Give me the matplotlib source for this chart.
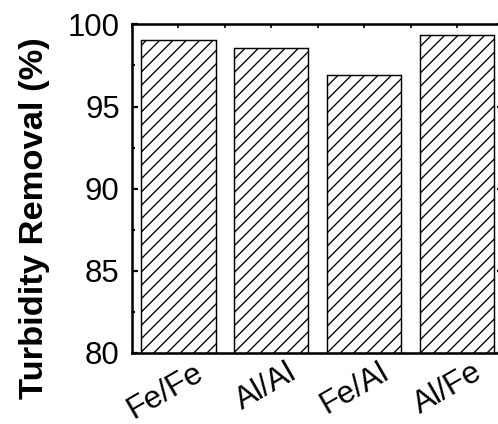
import numpy as np
import matplotlib
matplotlib.use('Agg')
from matplotlib import pyplot as plt
from matplotlib import transforms
from matplotlib.ticker import MultipleLocator

plt.rcParams['font.family'] = ['Liberation Sans', 'DejaVu Sans']
plt.rcParams['hatch.linewidth'] = 1.2

# electrode pairs and turbidity removal (%)
electrodes = ['Fe/Fe', 'Al/Al', 'Fe/Al', 'Al/Fe']
removal = [99.03, 98.58, 96.9, 99.37]

fig = plt.figure(figsize=(498 / 80, 424 / 80), dpi=80)
ax = fig.add_axes([0.265, 0.1675, 0.746, 0.775])

x = np.arange(1, len(electrodes) + 1)
ax.bar(x, removal, width=0.8, color='white', edgecolor='black',
       linewidth=1.3, hatch='//', zorder=2)

ax.set_xlim(0.5, 4.5)
ax.set_ylim(80, 100)
ax.yaxis.set_major_locator(MultipleLocator(5))
ax.yaxis.set_minor_locator(MultipleLocator(2.5))
ax.set_xticks(x)
ax.xaxis.set_minor_locator(MultipleLocator(0.5))

for s in ax.spines.values():
    s.set_linewidth(2.3)

ax.tick_params(axis='y', which='both', direction='in', right=True, width=2, labelsize=28, pad=11)
ax.tick_params(axis='y', which='major', length=5.5)
ax.tick_params(axis='y', which='minor', length=2.8)
ax.tick_params(axis='x', which='both', direction='in', top=True, bottom=False,
               width=1.5, length=4, labelsize=28.5, pad=4)

ax.set_xticklabels(electrodes, rotation=30, ha='right')
shift = transforms.ScaledTranslation(30 / 80, 0, fig.dpi_scale_trans)
for lab in ax.get_xticklabels():
    lab.set_transform(lab.get_transform() + shift)

ax.set_ylabel('Turbidity Removal (%)', fontsize=31, fontweight='bold')
ax.yaxis.set_label_coords(-0.22, 0.41)

plt.savefig('out.png', dpi=80)
